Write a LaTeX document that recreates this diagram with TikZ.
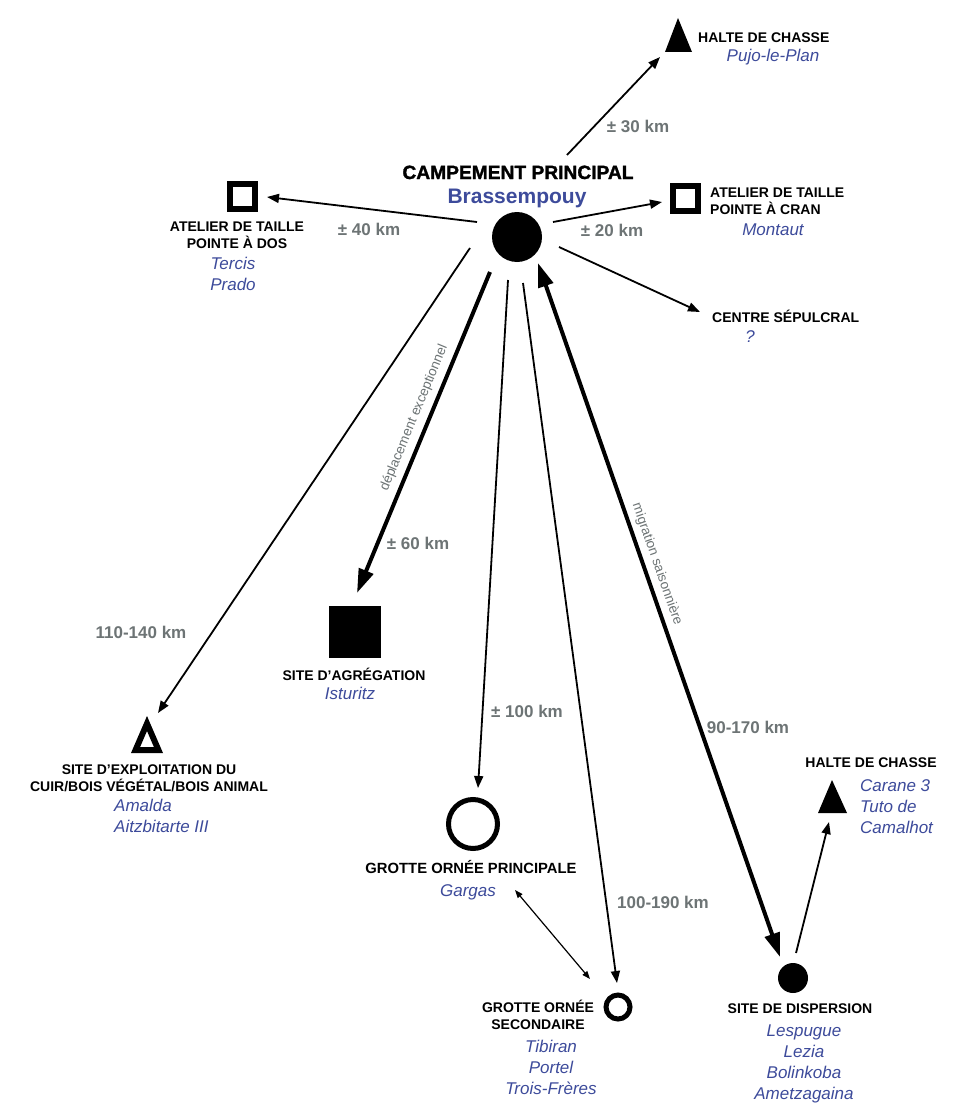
\documentclass[tikz,border=0pt]{standalone}
\usepackage{fontspec}
\setmainfont{Liberation Sans}
\newfontfamily\heavyfont{Liberation Sans}[BoldFeatures={FakeBold=1.5}]
\usetikzlibrary{arrows.meta}
\definecolor{nameblue}{HTML}{3D4B9B}
\definecolor{distgray}{HTML}{6D7475}
\newcommand{\sq}{\char"0027\relax}
\begin{document}
\begin{tikzpicture}[x=1pt,y=-1pt,
  lab/.style={font=\bfseries\fontsize{14}{17}\selectfont, align=center, inner sep=0, anchor=base},
  labl/.style={lab, align=left, anchor=base west},
  nm/.style={font=\itshape\fontsize{17}{21}\selectfont, text=nameblue, align=center, inner sep=0, anchor=base},
  nml/.style={nm, align=left, anchor=base west},
  dist/.style={font=\bfseries\fontsize{17}{20}\selectfont, text=distgray, inner sep=0, anchor=base},
  rotlab/.style={font=\fontsize{13.5}{16}\selectfont, text=distgray, inner sep=0},
  thin/.style={line width=1.8pt, -{Triangle[length=12pt,width=9pt]}},
  thick/.style={line width=4pt, -{Triangle[length=24pt,width=15pt]}},
  thickboth/.style={line width=4pt, {Triangle[length=24pt,width=15pt]}-{Triangle[length=24pt,width=15pt]}},
  fine/.style={line width=1.2pt, {Triangle[length=8pt,width=6pt]}-{Triangle[length=8pt,width=6pt]}},
  hollowsq/.style={draw, line width=6pt, minimum size=25pt, inner sep=0},
  hollowcirc/.style={circle, draw, line width=5pt, inner sep=0},
  fullcirc/.style={circle, fill=black, inner sep=0}
]
\useasboundingbox[fill=white] (0,0) rectangle (960,1113);

% ---- main camp
\node[fullcirc, minimum size=50pt] (main) at (517,237) {};
\node[font=\heavyfont\bfseries\fontsize{19.2}{22}\selectfont, inner sep=0, anchor=base] (maint) at (518,179) {CAMPEMENT PRINCIPAL};
\node[font=\bfseries\fontsize{21}{24}\selectfont, text=nameblue, inner sep=0, anchor=base] (mainn) at (517,203) {Brassempouy};

% ---- halte de chasse (Pujo)
\fill (678,18) -- (692,52) -- (665,52) -- cycle;
\coordinate (pujo) at (678,40);
\node[labl] (pujot) at (698,43) {HALTE DE CHASSE};
\node[nm] (pujon) at (773,62) {Pujo-le-Plan};

% ---- atelier pointe a cran (Montaut)
\node[hollowsq] (montaut) at (685,198) {};
\node[labl] (montautt) at (710,214) {ATELIER DE TAILLE\\POINTE À CRAN};
\node[nm] (montautn) at (773,235) {Montaut};

% ---- atelier pointe a dos (Tercis)
\node[hollowsq] (tercis) at (242,196) {};
\node[lab] (tercist) at (237,248) {ATELIER DE TAILLE\\POINTE À DOS};
\node[nm] (tercisn) at (233,290) {Tercis\\Prado};

% ---- centre sepulcral
\node[labl] (sepult) at (712,322) {CENTRE SÉPULCRAL};
\node[nm] (sepuln) at (750,342) {?};

% ---- site d'agregation (Isturitz)
\node[fill=black, minimum size=52pt, inner sep=0] (isturitz) at (355,632) {};
\node[lab] (isturitzt) at (354,680) {SITE D\sq AGRÉGATION};
\node[nm] (isturitzn) at (350,699) {Isturitz};

% ---- site d'exploitation (Amalda)
\fill[even odd rule] (147,716) -- (163,753) -- (131,753) -- cycle
     (147,731) -- (153.9,747) -- (140.1,747) -- cycle;
\coordinate (amalda) at (147,738);
\node[lab] (amaldat) at (149,791) {SITE D\sq EXPLOITATION DU\\CUIR/BOIS VÉGÉTAL/BOIS ANIMAL};
\node[nml] (amaldan) at (114,832) {Amalda\\Aitzbitarte III};

% ---- grotte ornee principale (Gargas)
\node[hollowcirc, minimum size=49pt] (gargas) at (473,824) {};
\node[lab, font=\bfseries\fontsize{14.8}{17}\selectfont] (gargast) at (471,873) {GROTTE ORNÉE PRINCIPALE};
\node[nm] (gargasn) at (468,896) {Gargas};

% ---- grotte ornee secondaire (Tibiran)
\node[hollowcirc, minimum size=24pt] (tibiran) at (618,1007) {};
\node[lab] (tibirant) at (538,1029) {GROTTE ORNÉE\\SECONDAIRE};
\node[nm] (tibiranN) at (551,1094) {Tibiran\\Portel\\Trois-Frères};

% ---- site de dispersion (Lespugue)
\node[fullcirc, minimum size=30pt] (lespugue) at (793,978) {};
\node[lab] (lespuguet) at (800,1013) {SITE DE DISPERSION};
\node[nm] (lespuguen) at (804,1099) {Lespugue\\Lezia\\Bolinkoba\\Ametzagaina};

% ---- halte de chasse (Carane)
\fill (832,780) -- (847,813) -- (818,813) -- cycle;
\coordinate (carane) at (832,800);
\node[lab] (caranet) at (871,767) {HALTE DE CHASSE};
\node[nml] (caranen) at (860,833) {Carane 3\\Tuto de\\Camalhot};

% ---- connector end points
\coordinate (m-pujo) at (567,155);   \coordinate (pujo-in) at (660,57);
\coordinate (m-mont) at (553,222);   \coordinate (mont-in) at (662,202);
\coordinate (m-terc) at (477,222);   \coordinate (terc-in) at (267,197);
\coordinate (m-sepu) at (559,247);   \coordinate (sepu-in) at (700,312);
\coordinate (m-amal) at (470,248);   \coordinate (amal-in) at (158,713);
\coordinate (m-istu) at (490,272);   \coordinate (istu-in) at (357,593);
\coordinate (m-garg) at (508,280);   \coordinate (garg-in) at (478,788);
\coordinate (m-tibi) at (523,283);   \coordinate (tibi-in) at (617,983);
\coordinate (m-lesp) at (538,263);   \coordinate (lesp-in) at (780,957);
\coordinate (garg-out) at (515,890); \coordinate (tibi-out) at (590,979);
\coordinate (lesp-out) at (796,953); \coordinate (cara-in) at (829,822);

% ---- connectors
\draw[thin] (m-pujo) -- (pujo-in);
\draw[thin] (m-mont) -- (mont-in);
\draw[thin] (m-terc) -- (terc-in);
\draw[thin] (m-sepu) -- (sepu-in);
\draw[thin] (m-amal) -- (amal-in);
\draw[thick] (m-istu) -- (istu-in);
\draw[thin] (m-garg) -- (garg-in);
\draw[thin] (m-tibi) -- (tibi-in);
\draw[thickboth] (m-lesp) -- (lesp-in);
\draw[fine] (garg-out) -- (tibi-out);
\draw[thin] (lesp-out) -- (cara-in);

% ---- distances
\node[dist] (d30) at (638,132) {± 30 km};
\node[dist] (d20) at (612,236) {± 20 km};
\node[dist] (d40) at (369,235) {± 40 km};
\node[dist] (d60) at (418,549) {± 60 km};
\node[dist] (d100) at (527,717) {± 100 km};
\node[dist] (d110) at (141,638) {110-140 km};
\node[dist] (d190) at (663,908) {100-190 km};
\node[dist] (d90) at (748,733) {90-170 km};

% ---- rotated labels
\node[rotlab, rotate=67.5] (depl) at (414,418) {déplacement exceptionnel};
\node[rotlab, rotate=-70.8] (migr) at (657,564) {migration saisonnière};
\end{tikzpicture}
\end{document}
